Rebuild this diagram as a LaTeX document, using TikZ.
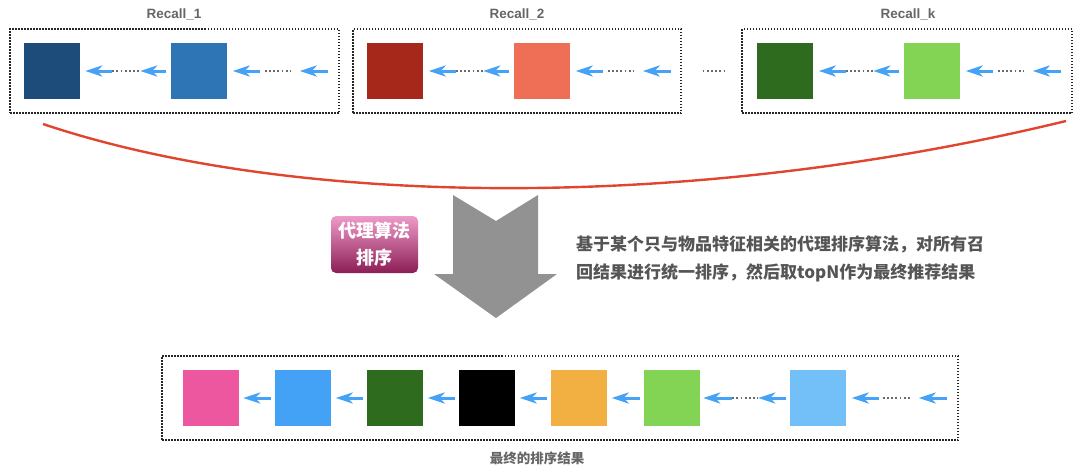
\documentclass[tikz,border=0pt]{standalone}
\usepackage{fontspec}
\setmainfont{Liberation Sans}
\newfontfamily\cjk{Noto Sans CJK SC}
\usetikzlibrary{arrows.meta}
\definecolor{dblue}{HTML}{1D4C7B}
\definecolor{mblue}{HTML}{2E75B6}
\definecolor{dred}{HTML}{A5281A}
\definecolor{salmon}{HTML}{EE6E56}
\definecolor{dgreen}{HTML}{2E6B1E}
\definecolor{lgreen}{HTML}{83D455}
\definecolor{pinkc}{HTML}{EC57A0}
\definecolor{skyc}{HTML}{43A2F6}
\definecolor{orangec}{HTML}{F2AF42}
\definecolor{lblue}{HTML}{73BFF8}
\definecolor{arrblue}{HTML}{45A2F5}
\definecolor{curvered}{HTML}{E0452F}
\definecolor{bigarrow}{HTML}{929292}
\definecolor{txtgray}{HTML}{555555}
\definecolor{lblgray}{HTML}{666666}
\definecolor{dotgray}{HTML}{6A6A6A}
\definecolor{btntop}{HTML}{EE9BC9}
\definecolor{btnbot}{HTML}{8C1E55}
\tikzset{
  x=1pt, y=-1pt,
  sq/.style={minimum size=57pt, inner sep=0pt, draw=white, line width=0.5pt},
  framebox/.style={draw=black!85, line width=1.2pt, dash pattern=on 1.5pt off 1.5pt},
  bluearr/.style={draw=arrblue, line width=3pt, -{Stealth[length=17pt,width=11pt,inset=5pt]}},
  dotline/.style={draw=dotgray, line width=1.8pt, dash pattern=on 1.8pt off 2.4pt},
  recalllbl/.style={font=\bfseries\fontsize{13.5}{16}\selectfont, text=lblgray},
}
\begin{document}
\begin{tikzpicture}
\useasboundingbox (0,0) rectangle (1080,472);
% ---- recall frames
\node[framebox, minimum width=329pt, minimum height=84pt, inner sep=0pt] (f1) at (174.5,71) {};
\node[framebox, minimum width=328pt, minimum height=84pt, inner sep=0pt] (f2) at (517,71) {};
\node[framebox, minimum width=330pt, minimum height=84pt, inner sep=0pt] (f3) at (907,71) {};
\node[recalllbl] (l1) at (174,14) {Recall\_1};
\node[recalllbl] (l2) at (517,14) {Recall\_2};
\node[recalllbl] (l3) at (908,14) {Recall\_k};
% ---- squares
\node[sq, fill=dblue] (a1) at (51.5,71) {};
\node[sq, fill=mblue] (a2) at (199,71) {};
\node[sq, fill=dred] (b1) at (395,71) {};
\node[sq, fill=salmon] (b2) at (542,71) {};
\node[sq, fill=dgreen] (c1) at (785,71) {};
\node[sq, fill=lgreen] (c2) at (932,71) {};
% ---- chains inside recall frames
\foreach \L/\R in {a1/a2, b1/b2, c1/c2}{
  \draw[bluearr] ([xshift=32pt]\L.east) -- ([xshift=5pt]\L.east);
  \draw[dotline] ([xshift=32pt]\L.east) -- ([xshift=-30pt]\R.west);
  \draw[bluearr] ([xshift=-4pt]\R.west) -- ([xshift=-30pt]\R.west);
  \draw[bluearr] ([xshift=32pt]\R.east) -- ([xshift=5pt]\R.east);
  \draw[dotline] ([xshift=37pt]\R.east) -- ([xshift=63pt]\R.east);
  \draw[bluearr] ([xshift=100pt]\R.east) -- ([xshift=72pt]\R.east);
}
% dots between Recall_2 and Recall_k
\draw[dotline] ([xshift=21pt]f2.east) -- ([xshift=-15pt]f3.west);
% ---- red curve
\coordinate (cs) at (43,124);
\coordinate (ce) at (1066,121);
\draw[curvered, line width=2.4pt] (cs) .. controls (300,210) and (700,210) .. (ce);
% ---- big grey arrow
\fill[bigarrow] (453,195) -- (496,221) -- (538,195) -- (538,274) -- (557,274) -- (496,318) -- (434,274) -- (453,274) -- cycle;
% ---- button
\node[rounded corners=5pt, top color=btntop, bottom color=btnbot, minimum width=87pt, minimum height=57pt, inner sep=0pt] (btn) at (374.5,244.5) {};
\node[text=white, align=center, font=\cjk\bfseries\fontsize{18}{27}\selectfont] (btntxt) at (btn.center) {代理算法\\排序};
% ---- description text
\node[anchor=west, align=left, text=txtgray, inner sep=0pt, font=\cjk\bfseries\fontsize{17}{28}\selectfont] (desc) at (576,259) {基于某个只与物品特征相关的代理排序算法，对所有召\\回结果进行统一排序，然后取topN作为最终推荐结果};
% ---- final frame
\node[framebox, minimum width=796pt, minimum height=84pt, inner sep=0pt] (ff) at (560,398) {};
\node[sq, fill=pinkc] (d1) at (210.5,398) {};
\node[sq, fill=skyc] (d2) at (303,398) {};
\node[sq, fill=dgreen] (d3) at (395,398) {};
\node[sq, fill=black] (d4) at (487,398) {};
\node[sq, fill=orangec] (d5) at (579,398) {};
\node[sq, fill=lgreen] (d6) at (671.5,398) {};
\node[sq, fill=lblue] (d7) at (818,398) {};
\foreach \L/\R in {d1/d2, d2/d3, d3/d4, d4/d5, d5/d6}{
  \draw[bluearr] ([xshift=-3pt]\R.west) -- ([xshift=4pt]\L.east);
}
\draw[bluearr] ([xshift=32pt]d6.east) -- ([xshift=3pt]d6.east);
\draw[dotline] ([xshift=32pt]d6.east) -- ([xshift=-31pt]d7.west);
\draw[bluearr] ([xshift=-3pt]d7.west) -- ([xshift=-31pt]d7.west);
\draw[bluearr] ([xshift=32pt]d7.east) -- ([xshift=5pt]d7.east);
\draw[dotline] ([xshift=36pt]d7.east) -- ([xshift=63pt]d7.east);
\draw[bluearr] ([xshift=100pt]d7.east) -- ([xshift=72pt]d7.east);
\node[text=lblgray, font=\cjk\bfseries\fontsize{13.5}{16}\selectfont] (flbl) at (537,458) {最终的排序结果};
\end{tikzpicture}
\end{document}
